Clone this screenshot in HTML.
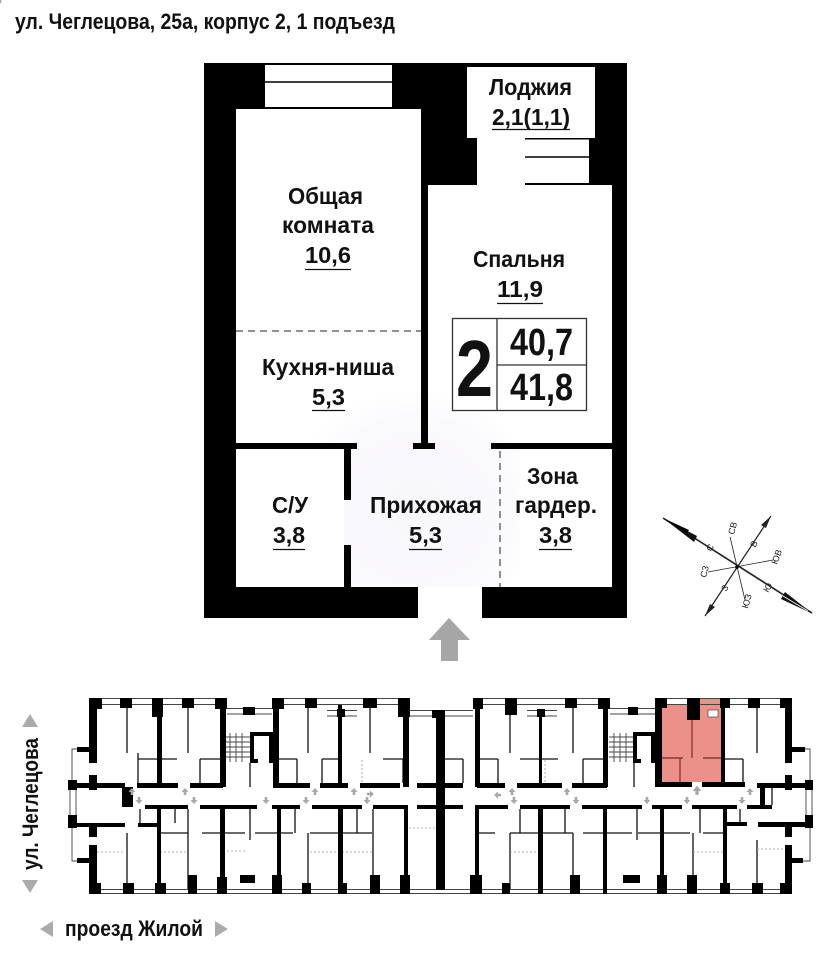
<!DOCTYPE html>
<html><head><meta charset="utf-8"><style>
html,body{margin:0;padding:0;background:#fff;}
svg{display:block;}
.t{font-family:"Liberation Sans Narrow","Liberation Sans","DejaVu Sans Condensed",sans-serif;font-weight:bold;fill:#111;}
.c{font-family:"Liberation Sans","DejaVu Sans",sans-serif;font-size:9px;fill:#222;}
</style></head><body>
<svg width="831" height="960" viewBox="0 0 831 960" xmlns="http://www.w3.org/2000/svg">
<defs>
<radialGradient id="tint" cx="0.5" cy="0.6" r="0.6">
<stop offset="0" stop-color="#f8f7fb"/><stop offset="0.75" stop-color="#faf9fc"/><stop offset="1" stop-color="#ffffff"/>
</radialGradient>
</defs>
<rect width="831" height="960" fill="#fff"/>
<!-- Title -->
<text class="t" x="15" y="29" font-size="22" textLength="380" lengthAdjust="spacingAndGlyphs">ул. Чеглецова, 25а, корпус 2, 1 подъезд</text>

<!-- ===== Top apartment plan ===== -->
<rect x="204" y="63" width="423" height="555" fill="#000"/>
<rect x="265" y="65" width="127" height="42" fill="#fff"/>
<line x1="265" y1="82" x2="392" y2="82" stroke="#000" stroke-width="1.5"/>
<rect x="236" y="109" width="185" height="340" fill="#fff"/>
<rect x="467" y="67" width="128" height="71" fill="#fff"/>
<rect x="477" y="137" width="48" height="50" fill="#fff"/>
<rect x="525" y="139.5" width="64" height="43.5" fill="#fff"/>
<line x1="525" y1="157" x2="589" y2="157" stroke="#000" stroke-width="1.5"/>
<rect x="428" y="185" width="184" height="264" fill="#fff"/>
<rect x="236" y="449" width="376" height="138" fill="#fff"/>
<rect x="357" y="443" width="134" height="7" fill="#fff"/>
<rect x="310" y="390" width="210" height="197" fill="url(#tint)"/>
<rect x="236" y="449" width="108" height="138" fill="#fff"/>
<rect x="421" y="185" width="7" height="264" fill="#000"/>
<rect x="413" y="443" width="22" height="6" fill="#000"/>
<rect x="236" y="443" width="121" height="6" fill="#000"/>
<rect x="491" y="443" width="121" height="6" fill="#000"/>
<rect x="418" y="587" width="64" height="32" fill="#fff"/>
<rect x="344" y="449" width="7" height="51" fill="#000"/>
<rect x="344" y="545" width="7" height="42" fill="#000"/>
<line x1="236" y1="331" x2="421" y2="331" stroke="#222" stroke-width="1" stroke-dasharray="7,5"/>
<line x1="500" y1="451" x2="500" y2="587" stroke="#222" stroke-width="1" stroke-dasharray="7,5"/>

<!-- labels -->
<text class="t" x="489" y="95" font-size="23" textLength="83" lengthAdjust="spacingAndGlyphs">Лоджия</text>
<text class="t" x="492" y="125" font-size="23" textLength="78" lengthAdjust="spacingAndGlyphs">2,1(1,1)</text>
<line x1="492" y1="129.5" x2="570" y2="129.5" stroke="#111" stroke-width="1.3"/>
<text class="t" x="288" y="204" font-size="23" textLength="75" lengthAdjust="spacingAndGlyphs">Общая</text>
<text class="t" x="282" y="233" font-size="23" textLength="92" lengthAdjust="spacingAndGlyphs">комната</text>
<text class="t" x="305" y="263" font-size="23" textLength="46" lengthAdjust="spacingAndGlyphs">10,6</text>
<line x1="305" y1="269.5" x2="351" y2="269.5" stroke="#111" stroke-width="1.3"/>
<text class="t" x="473" y="267" font-size="23" textLength="92" lengthAdjust="spacingAndGlyphs">Спальня</text>
<text class="t" x="497" y="297" font-size="23" textLength="46" lengthAdjust="spacingAndGlyphs">11,9</text>
<line x1="497" y1="303.5" x2="543" y2="303.5" stroke="#111" stroke-width="1.3"/>
<text class="t" x="262" y="375" font-size="23" textLength="132" lengthAdjust="spacingAndGlyphs">Кухня-ниша</text>
<text class="t" x="312" y="405" font-size="23" textLength="33" lengthAdjust="spacingAndGlyphs">5,3</text>
<line x1="312" y1="410.5" x2="345" y2="410.5" stroke="#111" stroke-width="1.3"/>
<text class="t" x="272" y="513" font-size="23" textLength="36" lengthAdjust="spacingAndGlyphs">С/У</text>
<text class="t" x="273" y="543" font-size="23" textLength="32" lengthAdjust="spacingAndGlyphs">3,8</text>
<line x1="273" y1="549.5" x2="305" y2="549.5" stroke="#111" stroke-width="1.3"/>
<text class="t" x="370" y="513" font-size="23" textLength="112" lengthAdjust="spacingAndGlyphs">Прихожая</text>
<text class="t" x="409" y="543" font-size="23" textLength="33" lengthAdjust="spacingAndGlyphs">5,3</text>
<line x1="409" y1="549.5" x2="442" y2="549.5" stroke="#111" stroke-width="1.3"/>
<text class="t" x="527" y="484" font-size="23" textLength="51" lengthAdjust="spacingAndGlyphs">Зона</text>
<text class="t" x="515" y="513" font-size="23" textLength="82" lengthAdjust="spacingAndGlyphs">гардер.</text>
<text class="t" x="539" y="543" font-size="23" textLength="33" lengthAdjust="spacingAndGlyphs">3,8</text>
<line x1="539" y1="549.5" x2="572" y2="549.5" stroke="#111" stroke-width="1.3"/>

<!-- summary box -->
<rect x="452.5" y="318.5" width="134" height="92" fill="#fff" stroke="#333" stroke-width="1.3"/>
<line x1="497" y1="318.5" x2="497" y2="410.5" stroke="#333" stroke-width="1.3"/>
<line x1="497" y1="365" x2="586.5" y2="365" stroke="#333" stroke-width="1.3"/>
<text class="t" x="456" y="396" font-size="80" textLength="37" lengthAdjust="spacingAndGlyphs">2</text>
<text class="t" x="510" y="355" font-size="38" textLength="63" lengthAdjust="spacingAndGlyphs">40,7</text>
<text class="t" x="510" y="400" font-size="38" textLength="63" lengthAdjust="spacingAndGlyphs">41,8</text>

<!-- entry arrow -->
<polygon points="449,618 470,640 458,640 458,661 441,661 441,640 429,640" fill="#a6a6a6"/>

<!-- ===== Compass ===== -->
<g stroke="#222" fill="none">
<line x1="663" y1="518" x2="812" y2="613" stroke-width="1.6"/>
<line x1="705" y1="616" x2="771" y2="516" stroke-width="1.2"/>
<line x1="708" y1="572" x2="773" y2="560" stroke-width="0.8"/>
<line x1="730" y1="537" x2="745" y2="600" stroke-width="0.8"/>
</g>
<polygon points="663,518 697,536 694,542" fill="#111"/>
<polygon points="663,518 689,530 687,533" fill="#000"/>
<polygon points="813,614 781,599 785,592" fill="#111"/>
<line x1="783" y1="596" x2="808" y2="611" stroke="#fff" stroke-width="0.8"/>
<polygon points="771,516 766,528 761,525" fill="#222"/>
<polygon points="705,616 710,604 715,607" fill="#222"/>
<circle cx="737" cy="567" r="1.8" fill="#000"/>
<text class="c" transform="translate(711,552) rotate(-58)">С</text>
<text class="c" transform="translate(755,548) rotate(-58)">В</text>
<text class="c" transform="translate(734,535) rotate(-75)">СВ</text>
<text class="c" transform="translate(777,565) rotate(-70)">ЮВ</text>
<text class="c" transform="translate(706,578) rotate(-75)">СЗ</text>
<text class="c" transform="translate(726,592) rotate(-58)">З</text>
<text class="c" transform="translate(748,609) rotate(-75)">ЮЗ</text>
<text class="c" transform="translate(768,593) rotate(-58)">Ю</text>

<!-- ===== Bottom floor plan ===== -->
<!-- pink unit -->
<rect x="662" y="705" width="61" height="77" fill="#eb9189"/>
<rect x="699" y="698" width="22" height="8" fill="#eb9189"/>
<g stroke="#7a2a25" stroke-width="1.2">
<line x1="692" y1="720" x2="692" y2="758"/>
<line x1="662" y1="758" x2="683" y2="758"/>
<line x1="703" y1="758" x2="723" y2="758"/>
<line x1="680" y1="758" x2="680" y2="782"/>
</g>
<rect x="708" y="710" width="10" height="7" fill="#fff" stroke="#333" stroke-width="0.6"/>

<!-- window lines top/bottom -->
<g stroke="#444" stroke-width="0.9" fill="none">
<line x1="90" y1="698.5" x2="227" y2="698.5"/><line x1="90" y1="704.5" x2="227" y2="704.5"/>
<line x1="272" y1="698.5" x2="410" y2="698.5"/><line x1="272" y1="704.5" x2="410" y2="704.5"/>
<line x1="227" y1="708.5" x2="272" y2="708.5"/><line x1="227" y1="714" x2="272" y2="714"/>
<line x1="410" y1="710.5" x2="473" y2="710.5"/><line x1="410" y1="716" x2="473" y2="716"/>
<line x1="473" y1="698.5" x2="610" y2="698.5"/><line x1="473" y1="704.5" x2="610" y2="704.5"/>
<line x1="610" y1="708.5" x2="660" y2="708.5"/><line x1="610" y1="714" x2="660" y2="714"/>
<line x1="660" y1="698.5" x2="792" y2="698.5"/><line x1="660" y1="704.5" x2="792" y2="704.5"/>
<line x1="90" y1="889.5" x2="792" y2="889.5"/><line x1="90" y1="893.5" x2="792" y2="893.5"/>
<line x1="327" y1="710.5" x2="357" y2="710.5"/><line x1="327" y1="716" x2="357" y2="716"/>
<line x1="527" y1="710.5" x2="557" y2="710.5"/><line x1="527" y1="716" x2="557" y2="716"/>
<!-- bays -->
<polyline points="77,749 72,749 72,780"/>
<polyline points="72,828 72,861 77,861"/>
<line x1="70" y1="790" x2="70" y2="815"/><line x1="76" y1="790" x2="76" y2="815"/>
<polyline points="805,749 810,749 810,780"/>
<polyline points="810,828 810,861 803,861"/>
<line x1="806" y1="790" x2="806" y2="815"/><line x1="812" y1="790" x2="812" y2="815"/>
<!-- stairs -->
<line x1="225" y1="737" x2="250" y2="737"/><line x1="225" y1="742" x2="250" y2="742"/><line x1="225" y1="747" x2="250" y2="747"/><line x1="225" y1="752" x2="250" y2="752"/><line x1="225" y1="757" x2="250" y2="757"/>
<line x1="230" y1="733" x2="230" y2="762"/><line x1="236" y1="733" x2="236" y2="762"/><line x1="242" y1="733" x2="242" y2="762"/>
<line x1="609" y1="737" x2="633" y2="737"/><line x1="609" y1="742" x2="633" y2="742"/><line x1="609" y1="747" x2="633" y2="747"/><line x1="609" y1="752" x2="633" y2="752"/><line x1="609" y1="757" x2="633" y2="757"/>
<line x1="614" y1="733" x2="614" y2="762"/><line x1="620" y1="733" x2="620" y2="762"/><line x1="626" y1="733" x2="626" y2="762"/>
</g>

<!-- thin interior walls -->
<g stroke="#111" stroke-width="1.3" fill="none">
<line x1="127" y1="705" x2="127" y2="753"/><line x1="188" y1="705" x2="188" y2="753"/>
<line x1="250" y1="763" x2="250" y2="787"/><line x1="308" y1="705" x2="308" y2="753"/>
<line x1="370" y1="705" x2="370" y2="753"/>
<line x1="510" y1="705" x2="510" y2="753"/><line x1="573" y1="705" x2="573" y2="753"/>
<line x1="634" y1="763" x2="634" y2="787"/><line x1="757" y1="705" x2="757" y2="753"/>
<line x1="138" y1="759" x2="177" y2="759"/><line x1="200" y1="759" x2="220" y2="759"/>
<line x1="278" y1="759" x2="297" y2="759"/><line x1="322" y1="759" x2="340" y2="759"/>
<line x1="383" y1="759" x2="403" y2="759"/><line x1="445" y1="759" x2="463" y2="759"/>
<line x1="480" y1="759" x2="498" y2="759"/><line x1="520" y1="759" x2="558" y2="759"/>
<line x1="583" y1="759" x2="603" y2="759"/><line x1="725" y1="759" x2="743" y2="759"/>
<line x1="138" y1="753" x2="138" y2="783"/><line x1="200" y1="759" x2="200" y2="783"/>
<line x1="297" y1="759" x2="297" y2="783"/><line x1="322" y1="759" x2="322" y2="783"/>
<line x1="403" y1="759" x2="403" y2="783"/><line x1="463" y1="759" x2="463" y2="783"/>
<line x1="498" y1="759" x2="498" y2="783"/><line x1="583" y1="759" x2="583" y2="783"/>
<line x1="743" y1="759" x2="743" y2="783"/><line x1="772" y1="787" x2="772" y2="805"/>
<!-- lower -->
<line x1="127" y1="833" x2="127" y2="889"/><line x1="188" y1="809" x2="188" y2="889"/>
<line x1="250" y1="809" x2="250" y2="840"/><line x1="308" y1="833" x2="308" y2="889"/>
<line x1="373" y1="809" x2="373" y2="889"/><line x1="510" y1="833" x2="510" y2="889"/>
<line x1="573" y1="833" x2="573" y2="889"/><line x1="637" y1="809" x2="637" y2="840"/>
<line x1="693" y1="833" x2="693" y2="889"/><line x1="757" y1="840" x2="757" y2="889"/>
<line x1="160" y1="833" x2="188" y2="833"/><line x1="202" y1="833" x2="245" y2="833"/>
<line x1="255" y1="833" x2="293" y2="833"/><line x1="310" y1="833" x2="338" y2="833"/>
<line x1="343" y1="833" x2="372" y2="833"/><line x1="477" y1="833" x2="495" y2="833"/>
<line x1="510" y1="833" x2="573" y2="833"/><line x1="583" y1="833" x2="632" y2="833"/>
<line x1="638" y1="833" x2="690" y2="833"/><line x1="703" y1="833" x2="723" y2="833"/>
<line x1="140" y1="809" x2="140" y2="823"/><line x1="175" y1="809" x2="175" y2="823"/>
<line x1="295" y1="809" x2="295" y2="833"/><line x1="357" y1="809" x2="357" y2="833"/>
<line x1="520" y1="809" x2="520" y2="833"/><line x1="565" y1="809" x2="565" y2="833"/>
<line x1="700" y1="809" x2="700" y2="833"/><line x1="740" y1="809" x2="740" y2="822"/>
</g>
<g stroke="#999" stroke-width="0.8" stroke-dasharray="2,2" fill="none">
<line x1="97" y1="852" x2="125" y2="852"/><line x1="160" y1="852" x2="188" y2="852"/>
<line x1="227" y1="851" x2="245" y2="851"/><line x1="310" y1="852" x2="372" y2="852"/>
<line x1="510" y1="852" x2="537" y2="852"/><line x1="693" y1="852" x2="723" y2="852"/>
<line x1="757" y1="849" x2="785" y2="849"/><line x1="405" y1="828" x2="436" y2="828"/>
<line x1="407" y1="823" x2="407" y2="848"/><line x1="545" y1="760" x2="545" y2="783"/>
<line x1="362" y1="760" x2="362" y2="783"/>
</g>

<!-- thick walls -->
<g fill="#000">
<!-- top piers -->
<rect x="89" y="698" width="13" height="11"/><rect x="120" y="698" width="12" height="10"/>
<rect x="152" y="698" width="11" height="19"/><rect x="182" y="698" width="12" height="10"/>
<rect x="215" y="698" width="12" height="11"/><rect x="243" y="707" width="12" height="8"/>
<rect x="272" y="698" width="12" height="11"/><rect x="305" y="698" width="12" height="10"/>
<rect x="337" y="709" width="8" height="8"/><rect x="363" y="698" width="14" height="10"/>
<rect x="398" y="698" width="12" height="19"/><rect x="432" y="710" width="13" height="8"/>
<rect x="473" y="698" width="10" height="11"/><rect x="505" y="698" width="12" height="17"/>
<rect x="537" y="709" width="8" height="8"/><rect x="565" y="698" width="12" height="10"/>
<rect x="598" y="698" width="12" height="11"/><rect x="628" y="707" width="10" height="8"/>
<rect x="655" y="698" width="12" height="10"/><rect x="687" y="698" width="13" height="22"/>
<rect x="720" y="698" width="10" height="10"/><rect x="748" y="698" width="12" height="10"/>
<rect x="780" y="698" width="12" height="10"/>
<!-- bottom piers -->
<rect x="89" y="883" width="12" height="11"/><rect x="123" y="883" width="11" height="11"/>
<rect x="155" y="883" width="11" height="11"/><rect x="188" y="875" width="9" height="19"/>
<rect x="217" y="877" width="10" height="17"/><rect x="240" y="875" width="15" height="8"/>
<rect x="272" y="875" width="10" height="19"/><rect x="302" y="883" width="9" height="11"/>
<rect x="338" y="883" width="9" height="11"/><rect x="370" y="875" width="10" height="19"/>
<rect x="400" y="875" width="10" height="19"/><rect x="470" y="875" width="12" height="19"/>
<rect x="502" y="883" width="8" height="11"/><rect x="570" y="875" width="10" height="19"/>
<rect x="623" y="875" width="17" height="8"/><rect x="657" y="875" width="10" height="19"/>
<rect x="687" y="875" width="10" height="19"/><rect x="720" y="883" width="10" height="11"/>
<rect x="752" y="883" width="11" height="11"/><rect x="780" y="883" width="12" height="11"/>
<!-- upper verticals -->
<rect x="89" y="698" width="8" height="65"/><rect x="89" y="775" width="8" height="15"/>
<rect x="157" y="698" width="5" height="89"/><rect x="220" y="698" width="6" height="89"/>
<rect x="273" y="698" width="6" height="89"/><rect x="338" y="705" width="4" height="82"/>
<rect x="403" y="698" width="6" height="89"/><rect x="436" y="710" width="9" height="180"/>
<rect x="475" y="698" width="5" height="89"/><rect x="539" y="710" width="3" height="77"/>
<rect x="603" y="698" width="5" height="89"/><rect x="655" y="698" width="7" height="89"/>
<rect x="721" y="698" width="4" height="89"/><rect x="785" y="698" width="7" height="65"/>
<rect x="785" y="775" width="7" height="15"/>
<!-- elevators -->
<rect x="250" y="732" width="23" height="4"/><rect x="250" y="732" width="4" height="31"/>
<rect x="269" y="732" width="4" height="31"/><rect x="250" y="759" width="8" height="4"/>
<rect x="633" y="732" width="22" height="4"/><rect x="633" y="732" width="4" height="31"/>
<rect x="651" y="732" width="4" height="31"/><rect x="633" y="759" width="8" height="4"/>
<!-- corridor top wall -->
<rect x="68" y="783" width="57" height="5"/><rect x="137" y="783" width="41" height="5"/>
<rect x="190" y="783" width="33" height="5"/><rect x="273" y="783" width="37" height="5"/>
<rect x="320" y="783" width="28" height="5"/><rect x="360" y="783" width="40" height="5"/>
<rect x="417" y="783" width="46" height="5"/><rect x="477" y="783" width="28" height="5"/>
<rect x="517" y="783" width="45" height="5"/><rect x="572" y="783" width="35" height="5"/>
<rect x="655" y="782" width="37" height="5"/><rect x="702" y="782" width="43" height="5"/>
<rect x="757" y="783" width="56" height="5"/>
<!-- corridor bottom wall -->
<rect x="122" y="787" width="11" height="20"/><rect x="145" y="805" width="43" height="4"/>
<rect x="200" y="805" width="57" height="4"/><rect x="272" y="805" width="28" height="4"/>
<rect x="312" y="805" width="50" height="4"/><rect x="373" y="805" width="34" height="4"/>
<rect x="417" y="805" width="46" height="4"/><rect x="475" y="805" width="33" height="4"/>
<rect x="520" y="805" width="50" height="4"/><rect x="582" y="805" width="60" height="4"/>
<rect x="652" y="805" width="30" height="4"/><rect x="692" y="805" width="45" height="4"/>
<rect x="747" y="805" width="25" height="4"/><rect x="760" y="787" width="5" height="20"/>
<!-- wings -->
<rect x="68" y="780" width="9" height="10"/><rect x="68" y="815" width="9" height="13"/>
<rect x="70" y="823" width="55" height="4"/><rect x="138" y="823" width="19" height="4"/>
<rect x="77" y="747" width="12" height="5"/><rect x="77" y="858" width="12" height="5"/>
<rect x="89" y="827" width="8" height="10"/><rect x="89" y="845" width="8" height="49"/>
<rect x="805" y="780" width="8" height="10"/><rect x="805" y="815" width="8" height="13"/>
<rect x="758" y="822" width="55" height="5"/><rect x="727" y="822" width="20" height="4"/>
<rect x="792" y="747" width="13" height="5"/><rect x="792" y="858" width="11" height="5"/>
<rect x="785" y="827" width="7" height="10"/><rect x="785" y="845" width="7" height="49"/>
<!-- lower verticals -->
<rect x="157" y="805" width="4" height="89"/><rect x="220" y="805" width="5" height="89"/>
<rect x="277" y="805" width="4" height="89"/><rect x="338" y="805" width="5" height="89"/>
<rect x="404" y="805" width="4" height="89"/><rect x="475" y="805" width="4" height="89"/>
<rect x="538" y="805" width="5" height="89"/><rect x="603" y="805" width="4" height="89"/>
<rect x="660" y="805" width="4" height="89"/><rect x="723" y="805" width="4" height="89"/>
</g>

<!-- corridor arrows -->
<g fill="#a8a8a8">
<g id="up"><polygon points="0,-4 3.5,0 1.3,0 1.3,3 -1.3,3 -1.3,0 -3.5,0"/></g>
</g>
<g fill="#a8a8a8">
<use href="#up" transform="translate(132,792)"/><use href="#up" transform="translate(185,792)"/>
<use href="#up" transform="translate(315,792)"/><use href="#up" transform="translate(354,792)"/>
<use href="#up" transform="translate(512,792)"/><use href="#up" transform="translate(567,792)"/>
<use href="#up" transform="translate(697,791) scale(1.3)"/><use href="#up" transform="translate(750,792)"/>
<use href="#up" transform="translate(139,800) rotate(180)"/><use href="#up" transform="translate(194,800) rotate(180)"/>
<use href="#up" transform="translate(266,800) rotate(180)"/><use href="#up" transform="translate(306,800) rotate(180)"/>
<use href="#up" transform="translate(367,800) rotate(180)"/><use href="#up" transform="translate(514,800) rotate(180)"/>
<use href="#up" transform="translate(576,800) rotate(180)"/><use href="#up" transform="translate(647,800) rotate(180)"/>
<use href="#up" transform="translate(687,800) rotate(180)"/><use href="#up" transform="translate(742,800) rotate(180)"/>
<use href="#up" transform="translate(370,794) rotate(90)"/><use href="#up" transform="translate(498,795) rotate(-90)"/>
</g>

<!-- street labels -->
<polygon points="30,714 38,727 22,727" fill="#ababab"/>
<polygon points="22,880 38,880 30,893" fill="#ababab"/>
<text class="t" transform="translate(38,870) rotate(-90)" x="0" y="0" font-size="22" textLength="132" lengthAdjust="spacingAndGlyphs">ул. Чеглецова</text>
<polygon points="40,929 53,921 53,937" fill="#ababab"/>
<polygon points="228,929 215,921 215,937" fill="#ababab"/>
<text class="t" x="65" y="936" font-size="22" textLength="138" lengthAdjust="spacingAndGlyphs">проезд Жилой</text>
</svg>
</body></html>
